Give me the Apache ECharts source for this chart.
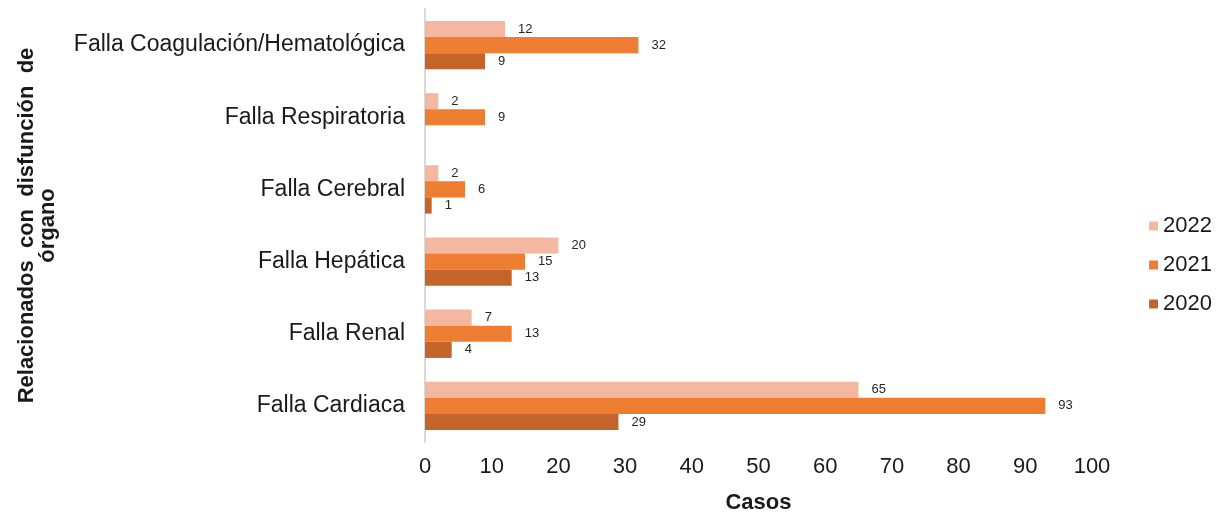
<!DOCTYPE html>
<html>
<head>
<meta charset="utf-8">
<script src="https://cdn.jsdelivr.net/npm/echarts@6/dist/echarts.min.js"></script>
<style>html,body{margin:0;padding:0;background:#fff}#c{width:1227px;height:516px}</style>
</head>
<body>
<div id="c"></div>
<script>
const categories = ['Falla Cardiaca', 'Falla Renal', 'Falla Hepática', 'Falla Cerebral', 'Falla Respiratoria', 'Falla Coagulación/Hematológica'];
const v2022 = [65, 7, 20, 2, 2, 12];
const v2021 = [93, 13, 15, 6, 9, 32];
const v2020 = [29, 4, 13, 1, null, 9];
const xTicks = [0, 100, 10];

const font = 'Liberation Sans, Arial, sans-serif';
const chart = echarts.init(document.getElementById('c'));
const lbl = { show: true, position: 'right', distance: 13, color: '#262626', fontSize: 13, fontFamily: font };
chart.setOption({
  animation: false,
  grid: { left: 425, right: 135, top: 9, bottom: 74, containLabel: false, outerBoundsMode: 'none' },
  legend: {
    orient: 'vertical', right: 10, top: 210,
    itemWidth: 9, itemHeight: 9, itemGap: 17,
    icon: 'rect',
    textStyle: { fontSize: 22, fontFamily: font, color: '#1a1a1a' },
    data: ['2022', '2021', '2020']
  },
  xAxis: {
    type: 'value', min: xTicks[0], max: xTicks[1], interval: xTicks[2],
    name: 'Casos', nameLocation: 'middle', nameGap: 50,
    nameTextStyle: { fontSize: 22, fontWeight: 'bold', fontFamily: font, color: '#1a1a1a' },
    axisLine: { show: false }, axisTick: { show: false }, splitLine: { show: false },
    axisLabel: { fontSize: 22, fontFamily: font, color: '#1a1a1a', margin: 14 }
  },
  yAxis: {
    type: 'category', data: categories,
    name: 'Relacionados  con  disfunción  de\nórgano', nameLocation: 'middle', nameGap: 367, nameRotate: 90,
    nameTextStyle: { fontSize: 22, fontWeight: 'bold', fontFamily: font, color: '#1a1a1a', lineHeight: 21, align: 'center' },
    axisLine: { show: true, lineStyle: { color: '#d9d9d9', width: 2 } },
    axisTick: { show: false },
    axisLabel: { fontSize: 23, fontFamily: font, color: '#1a1a1a', margin: 20 }
  },
  series: [
    { name: '2022', type: 'bar', data: v2022, itemStyle: { color: '#F4B8A2' }, barGap: '0%', barCategoryGap: '33%', label: lbl },
    { name: '2021', type: 'bar', data: v2021, itemStyle: { color: '#ED7D31' }, label: lbl },
    { name: '2020', type: 'bar', data: v2020, itemStyle: { color: '#C46428' }, label: lbl }
  ]
});
</script>
</body>
</html>
